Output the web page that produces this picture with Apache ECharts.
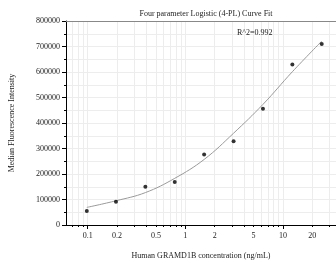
<!DOCTYPE html>
<html>
<head>
<meta charset="utf-8">
<script src="https://cdn.jsdelivr.net/npm/echarts@6/dist/echarts.min.js"></script>
<style>
  html, body { margin: 0; padding: 0; background: #fff; }
  #chart { width: 336px; height: 268px; }
</style>
</head>
<body>
<div id="chart"></div>
<script>
// measured standards
const conc = [0.098, 0.195, 0.39, 0.78, 1.56, 3.125, 6.25, 12.5, 25];
const mfi = [55000, 91000, 150000, 169000, 276000, 328000, 456000, 629000, 710000];
// fitted 4PL curve
const fitConc = [0.098, 0.195, 0.39, 0.78, 1.56, 3.125, 6.25, 12.5, 25];
const fitMfi = [69000, 95000, 127000, 183000, 257000, 360000, 473000, 601000, 721000];

const labelTicks = [0.1, 0.2, 0.5, 1, 2, 5, 10, 20];
const majorTicks = [0.1, 1, 10];
const minorTicks = [0.07, 0.08, 0.09, 0.1, 0.2, 0.3, 0.4, 0.5, 0.6, 0.7, 0.8, 0.9,
  1, 2, 3, 4, 5, 6, 7, 8, 9, 10, 20, 30];

const font = 'Liberation Serif';
const chart = echarts.init(document.getElementById('chart'));

const option = {
  animation: false,
  title: {
    text: 'Four parameter Logistic (4-PL) Curve Fit',
    left: 201, top: 5, textAlign: 'center',
    textStyle: { fontFamily: font, fontSize: 8, fontWeight: 'normal', color: '#222' }
  },
  grid: { left: 64, right: 0, top: 21, bottom: 43 },
  xAxis: [
    {
      type: 'log', logBase: 10, min: 0.06, max: 35, position: 'bottom',
      name: 'Human GRAMD1B concentration (ng/mL)',
      nameLocation: 'middle', nameGap: 27,
      nameTextStyle: { fontFamily: font, fontSize: 8, color: '#222' },
      axisLine: { lineStyle: { color: '#000', width: 1 } },
      axisTick: { show: true, customValues: majorTicks, length: 4, lineStyle: { color: '#000' } },
      axisLabel: { customValues: labelTicks, fontFamily: font, fontSize: 8, color: '#222', margin: 7,
        formatter: v => String(v) },
      splitLine: { show: false }
    },
    {
      type: 'log', logBase: 10, min: 0.06, max: 35, position: 'bottom',
      axisLine: { show: false },
      axisTick: { show: true, customValues: minorTicks, length: 2, lineStyle: { color: '#000' } },
      axisLabel: { show: false },
      splitLine: { show: true, lineStyle: { color: '#ededed', width: 1 } }
    },
    {
      type: 'log', logBase: 10, min: 0.06, max: 35, position: 'top',
      axisLine: { show: true, lineStyle: { color: '#888', width: 1 } },
      axisTick: { show: false }, axisLabel: { show: false }, splitLine: { show: false }
    }
  ],
  yAxis: {
    type: 'value', min: 0, max: 800000, interval: 100000,
    name: 'Median Fluorescence Intensity',
    nameLocation: 'middle', nameGap: 50, nameRotate: 90,
    nameTextStyle: { fontFamily: font, fontSize: 8, color: '#222' },
    axisLine: { show: true, lineStyle: { color: '#000', width: 1 } },
    axisTick: { show: true, length: 4, lineStyle: { color: '#000' } },
    minorTick: { show: true, splitNumber: 2, length: 2, lineStyle: { color: '#000' } },
    axisLabel: { fontFamily: font, fontSize: 8, color: '#222', margin: 6, formatter: v => String(v) },
    splitLine: { show: true, lineStyle: { color: '#ededed', width: 1 } },
    minorSplitLine: { show: true, lineStyle: { color: '#ededed', width: 1 } }
  },
  graphic: [{
    type: 'text', left: 237, top: 29, z: 100,
    style: { text: 'R^2=0.992', font: '8px "Liberation Serif"', fill: '#222' }
  }],
  series: [
    {
      type: 'line', xAxisIndex: 0, smooth: 0.4, showSymbol: false,
      lineStyle: { color: '#9a9a9a', width: 1 },
      data: fitConc.map((c, i) => [c, fitMfi[i]]),
      z: 2
    },
    {
      type: 'scatter', xAxisIndex: 0, symbol: 'circle', symbolSize: 4,
      itemStyle: { color: '#000' },
      data: conc.map((c, i) => [c, mfi[i]]),
      z: 3
    }
  ]
};
chart.setOption(option);
</script>
</body>
</html>
